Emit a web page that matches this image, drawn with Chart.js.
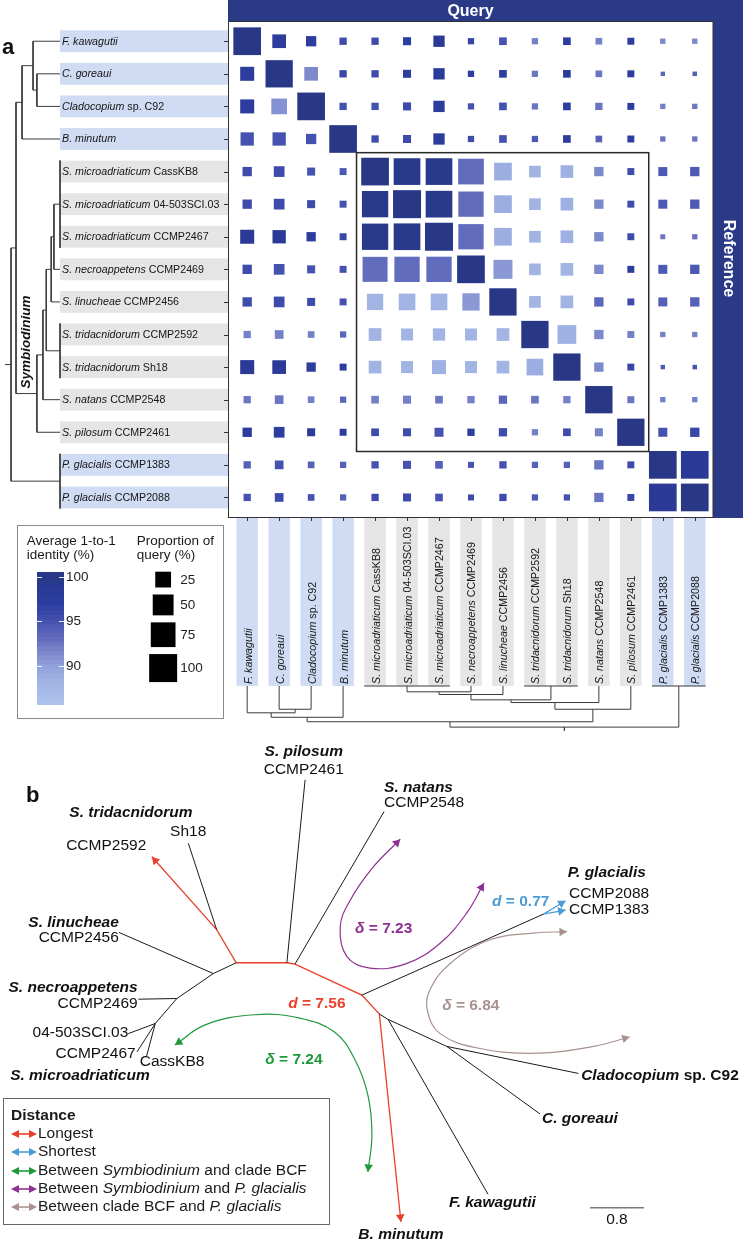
<!DOCTYPE html>
<html><head><meta charset="utf-8">
<script src="https://cdn.jsdelivr.net/npm/chart.js@4.4.1/dist/chart.umd.min.js"></script>
<style>
html,body{margin:0;padding:0;background:#fff;}
body{width:743px;height:1241px;position:relative;overflow:hidden;font-family:'Liberation Sans',Arial,Helvetica,sans-serif;color:#1a1a1a;}
canvas{position:absolute;}
.t{position:absolute;white-space:nowrap;}
#legB{position:absolute;left:3px;top:1098px;width:327px;height:127px;border:1px solid #666;box-sizing:border-box;font-size:15.5px;line-height:18.3px;padding:6.8px 0 0 7px;white-space:nowrap;}
#legB svg{vertical-align:-1px;margin-right:1px;}
</style></head><body>
<canvas id="cA" width="743" height="740" style="left:0;top:0"></canvas>
<div style="position:absolute;left:16.5px;top:525px;width:207px;height:193.5px;border:1px solid #8a8a8a;box-sizing:border-box"></div>
<div class="t" style="left:26.7px;top:533.5px;font-size:13.5px;line-height:14.5px">Average 1-to-1<br>identity (%)</div>
<div class="t" style="left:136.7px;top:533.5px;font-size:13.5px;line-height:14.5px">Proportion of<br>query (%)</div>
<canvas id="cCB" width="70" height="153" style="left:37px;top:562px"></canvas>
<canvas id="cSZ" width="62" height="150" style="left:149px;top:550px"></canvas>
<canvas id="cB" width="743" height="501" style="left:0;top:740px"></canvas>
<div id="legB"></div>
<script>
// ---------------- DATA ----------------
const speciesNames = ['F. kawagutii','C. goreaui','Cladocopium','B. minutum','S. microadriaticum','S. microadriaticum','S. microadriaticum','S. necroappetens','S. linucheae','S. tridacnidorum','S. tridacnidorum','S. natans','S. pilosum','P. glacialis','P. glacialis'];
const strainNames = ['','','sp. C92','','CassKB8','04-503SCI.03','CCMP2467','CCMP2469','CCMP2456','CCMP2592','Sh18','CCMP2548','CCMP2461','CCMP1383','CCMP2088'];
const axisTitles = {query:'Query', reference:'Reference', genus:'Symbiodinium'};

// proportion of query (%) : rows = reference genome, columns = query genome
const proportion = [
 [97.5,17.1,7.5,2.3,2.3,3.3,10,1.2,2.8,1.2,2.8,1.6,1.9,0.5,0.5],
 [18.2,94.3,17.1,2.3,2.3,3.3,10,1.2,2.8,1.2,2.8,1.6,1.9,0.1,0.15],
 [18.2,24.6,97.5,2.3,2.3,3.3,10,1.2,2.8,1.2,2.8,2.3,1.9,0.5,0.5],
 [15.8,15.8,7.5,97.5,2.3,3.3,10,1.2,2.8,1.2,2.8,1.6,1.9,0.5,0.5],
 [5.5,8.5,3.3,1.9,97.5,89.6,89.6,82.1,33.4,11,13.9,5.5,1.9,4.9,5.5],
 [5.5,8.5,3.3,1.9,86.6,100,89.6,79.1,33.4,11,13.9,5.5,1.9,4.9,5.5],
 [18.2,15.8,5.5,1.9,86.6,89.6,100,79.1,33.4,11,13.9,5.5,1.9,0.33,0.5],
 [5.5,8.5,3.3,1.9,76.9,79.1,79.1,97.5,39.8,11,13.9,5.5,1.9,4.9,5.5],
 [5.5,8.5,3.3,1.9,27.1,28.8,28.8,31.5,94.3,11,13.9,5.5,1.9,4.9,5.5],
 [2.3,4.4,1.6,1.2,13.9,11.9,12.7,11.9,13.9,94.3,38.3,5.5,1.9,0.5,0.5],
 [18.2,17.1,5.5,1.9,13.9,11.9,18.2,11.9,13.9,28.8,94.3,5.5,1.9,0.1,0.15],
 [2.3,4.4,1.6,1.2,2.8,3.3,2.8,2.3,3.7,2.8,2.3,94.3,1.9,0.5,0.5],
 [5.5,8.5,3.3,1.9,2.8,3.3,4.9,2.3,3.7,1.2,2.8,3.3,94.3,4.9,5.5],
 [2.3,4.4,1.6,1.2,2.3,3.3,2.8,1.0,2.3,1.2,1.2,5.5,1.9,97.5,97.5],
 [2.3,4.4,1.6,1.2,2.3,3.3,2.8,1.0,2.3,1.2,1.2,5.5,1.9,97.5,97.5]
];
// average 1-to-1 identity (%)
const identity = [
 [100,97.5,97.5,95.5,95.5,97,98.5,96,95,92,97.5,92,97.5,91.5,91.5],
 [97.5,100,91.5,96,95.5,97,98,97,97,92.5,98,92.5,98,93.5,94],
 [97.5,91,100,95,95,95.5,97.5,95,95,92.5,97.5,92.5,97.5,92,92.5],
 [95,95,95,100,95.5,95.5,97.5,95.5,95,94.5,97.5,94,97.5,92.5,92.5],
 [95.5,95.5,95,94.5,100,99.5,99.5,93,89,88,88.5,91.5,95.5,94.5,94.5],
 [95.5,95.5,95.5,95,99.5,100,99.5,93,89,88,88.5,91.5,95.5,94.5,94.5],
 [98.5,98.5,97.5,96,99.5,99.5,100,93,89,88,88.5,91.5,95.5,92.5,92.5],
 [95.5,95,95,95,93,93,93,100,90.5,88,88,91.5,97.5,94.5,94.5],
 [95.5,95.5,95.5,95,88,88,88,90.5,100,88,88,93.5,95.5,94,94],
 [92,92,92,93.5,88,88,88,88,88,100,88.5,91.5,92,92,92],
 [98.5,98.5,97.5,97.5,88,88,88.5,88,88,89,100,91.5,96,94.5,95],
 [92.5,92.5,92,93.5,92,92,92.5,92,93.5,92.5,92,100,92.5,92,92],
 [97.5,97.5,98,97.5,95.5,95.5,95,97.5,95.5,92,95.5,92,100,95,96],
 [94,95,94,94,95,95,94,95,95,94,94,92.5,95.5,100,98.5],
 [95,95.5,95,94,95.5,95.5,95,95.5,95.5,94.5,95,92.5,96,98.5,100]
];
const symbiodiniumBlock = [4, 12];

// dendrogram topology (leaf = genome index) and node heights
const treeTopology = ['root', [
  ['S', [
    ['BCF', [['F', [0, ['CC', [1, 2]]]], 3]],
    ['E', [['D', [['C', [['B', [['A', [['micro', [4, 5, 6]], 7]], 8]], ['T', [9, 10]]]], 11]], 12]]
  ]],
  ['Pg', [13, 14]]
]];
const rowTreeHeights = {micro:0, A:0.11, B:0.16, T:0, C:0.25, D:0.31, E:0.42, CC:0.42, F:0.49, BCF:0.69, S:0.80, Pg:0, root:0.89, stub:1.0};
const colTreeHeights = {micro:0, A:0.13, B:0.19, T:0, C:0.31, D:0.37, E:0.52, CC:0.52, F:0.60, BCF:0.70, S:0.80, Pg:0, root:0.92, stub:1.0};

// legend
const colorbarRange = [85.7, 100.55];
const colorbarTicks = [90, 95, 100];
const sizeLegendValues = [25, 50, 75, 100];

// panel b : unrooted tree (branch-length units)
const nodesB = {
  t2592:[2.25,1.73], sh18:[2.79,1.53], pil:[4.52,0.59], nat:[5.69,1.06], lin:[1.76,2.85], nec:[2.05,3.84],
  m0450:[1.90,4.35], m2467:[2.03,4.62], cass:[2.17,4.69], pg2088:[8.38,2.38], pg1383:[8.38,2.52],
  bmin:[5.94,7.14], fkaw:[7.23,6.73], cgor:[8.00,5.54], clad:[8.57,4.94],
  nTri:[3.21,2.81], n1:[3.50,3.30], n2:[4.25,3.30], n3:[4.37,3.32], n4:[5.36,3.78], n5:[5.62,4.06],
  n6:[5.75,4.14], n7:[6.62,4.54], nPg:[8.05,2.58], n8:[3.16,3.46], n9:[2.62,3.83], n10:[2.30,4.20]
};
const edgesB = [['nTri','sh18'],['n1','n8'],['n8','lin'],['n8','n9'],['n9','nec'],['n9','n10'],['n10','m0450'],['n10','m2467'],['n10','cass'],['n2','pil'],['n3','nat'],['n4','nPg'],['n5','n6'],['n6','fkaw'],['n6','n7'],['n7','cgor'],['n7','clad']];
const longestPath = ['t2592','nTri','n1','n2','n3','n4','n5','bmin'];
const shortestPath = ['pg2088','nPg','pg1383'];
const curveSymbPg = [[5.93,1.47],[5.53,1.88],[5.19,2.37],[5.04,2.77],[5.14,3.21],[5.48,3.38],[6.03,3.31],[6.52,3.01],[6.91,2.57],[7.17,2.12]];
const curveBcfPg = [[8.40,2.84],[7.90,2.86],[7.26,2.96],[6.67,3.31],[6.37,3.70],[6.33,4.00],[6.52,4.35],[7.11,4.57],[8.00,4.64],[8.79,4.54],[9.33,4.40]];
const curveSymbBcf = [[2.59,4.52],[3.04,4.22],[3.78,4.07],[4.44,4.12],[4.96,4.33],[5.26,4.74],[5.45,5.26],[5.51,5.85],[5.45,6.40]];
const distances = {longest:7.56, shortest:0.77, symbBcf:7.24, symbPg:7.23, bcfPg:6.84};
const scaleBarLength = 0.8;

// ---------------- STYLE / LAYOUT ----------------
const FF = "'Liberation Sans', Arial, Helvetica, sans-serif";
const NAVY = '#2b3a87';
const LIGHTBLUE = '#d0dcf3';
const GRAY = '#e5e5e5';
const IDENTITY_STOPS = [86,88,89,90,91,92,93,94,95.5,97,98.5,100];
const IDENTITY_RGB = [[172,194,236],[161,180,228],[155,173,225],[144,160,218],[132,145,210],[116,128,199],[97,108,189],[85,97,183],[62,75,171],[45,62,160],[42,58,150],[40,56,134]];
const C_RED = '#e8402a', C_BLUE = '#4b9cd6', C_GREEN = '#1f9a3a', C_PURPLE = '#8e2f91', C_BROWN = '#a8928d';
const HALF = 0.335, BRACKET = 0.34;
const PXU = 67.5; // px per tree unit in panel b

Chart.defaults.font.family = FF;
Chart.defaults.color = '#222';
Chart.defaults.animation = false;
Chart.defaults.events = [];
Chart.defaults.layout.autoPadding = false;
Chart.defaults.plugins.legend.display = false;
Chart.defaults.plugins.tooltip.enabled = false;

function rgb(c){ return 'rgb(' + c.map(v => Math.round(v)).join(',') + ')'; }
function identityColor(v){
  const S = IDENTITY_STOPS, C = IDENTITY_RGB;
  if (v <= S[0]) return rgb(C[0]);
  for (let k = 1; k < S.length; k++) if (v <= S[k]) { const t = (v - S[k-1]) / (S[k] - S[k-1]); return rgb(C[k-1].map((c,i) => c + (C[k][i] - c) * t)); }
  return rgb(C[C.length-1]);
}
function sideFor(p){ return 3.6 + 2.44 * Math.sqrt(Math.max(p, 0)); }
const isSymb = i => speciesNames[i].startsWith('S.');

function drawParts(ctx, parts, x, y, align, fonts){
  let w = 0;
  parts.forEach(p => { ctx.font = fonts[p[1]]; w += ctx.measureText(p[0]).width; });
  let cx = align === 'left' ? x : align === 'right' ? x - w : x - w / 2;
  ctx.textAlign = 'left';
  parts.forEach(p => { ctx.font = fonts[p[1]]; ctx.fillText(p[0], cx, y); cx += ctx.measureText(p[0]).width; });
}
function labelParts(i){
  const parts = [[speciesNames[i], 'i']];
  if (strainNames[i]) parts.push([' ' + strainNames[i], 'n']);
  return parts;
}

// tree segments: returns list of [[pos,h],[pos,h]]
function buildTree(H){
  const segs = [], pos = {};
  function walk(node){
    if (typeof node === 'number') return {p: node, h: 0};
    const [name, kids] = node;
    const ch = kids.map(walk);
    const h = H[name];
    const lo = Math.min(...ch.map(c => c.p)), hi = Math.max(...ch.map(c => c.p));
    const p = (lo + hi) / 2;
    if (h === 0) segs.push([[lo - BRACKET, h], [hi + BRACKET, h]]);
    else {
      segs.push([[lo, h], [hi, h]]);
      ch.forEach(c => { if (c.h !== h) segs.push([[c.p, h], [c.p, c.h]]); });
    }
    pos[name] = p;
    return {p, h};
  }
  const r = walk(treeTopology);
  segs.push([[r.p, r.h], [r.p, H.stub]]);
  return {segs, pos};
}
function segsToData(segs, map){
  const out = [];
  segs.forEach(s => { out.push(map(s[0]), map(s[1]), {x: null, y: null}); });
  return out;
}

// ---------------- PANEL A ----------------
const rowTree = buildTree(rowTreeHeights);
const colTree = buildTree(colTreeHeights);
const matrixPoints = [];
identity.forEach((row, i) => row.forEach((v, j) => matrixPoints.push({x: j, y: i, p: proportion[i][j], id: v})));

const A_LEFT = 228, A_RIGHT = 713, A_TOP = 22, A_BOTTOM = 517;
const ROW_LEAF_PX = 60, ROW_TREE_PX = 55;     // row tree: px = 60 - 55*h
const COL_LEAF_PX = 686, COL_TREE_PX = 44.7;  // col tree: px = 686 + 44.7*h
const W = A_RIGHT - A_LEFT, Hh = A_BOTTOM - A_TOP;
const txMin = -(A_RIGHT - ROW_LEAF_PX) / ROW_TREE_PX, txMax = txMin + W / ROW_TREE_PX;
const tyMin = -(COL_LEAF_PX - A_TOP) / COL_TREE_PX, tyMax = tyMin + Hh / COL_TREE_PX;

const fontsA = {i: 'italic 10.7px ' + FF, n: '10.7px ' + FF};

const panelAPlugin = {
  id: 'panelA',
  beforeDatasetsDraw(chart){
    const {ctx, chartArea: ca} = chart;
    const x = chart.scales.x, y = chart.scales.y, tx = chart.scales.tx, ty = chart.scales.ty;
    ctx.save();
    // navy bands
    ctx.fillStyle = NAVY;
    ctx.fillRect(ca.left, 0, chart.width - ca.left, ca.top);
    ctx.fillRect(ca.right, 0, chart.width - ca.right, ca.bottom + 1);
    ctx.fillStyle = '#fff'; ctx.font = 'bold 16px ' + FF; ctx.textAlign = 'center'; ctx.textBaseline = 'middle';
    ctx.fillText(axisTitles.query, (ca.left + ca.right) / 2, ca.top / 2 + 0.5);
    ctx.save(); ctx.translate((ca.right + chart.width) / 2, ca.bottom / 2); ctx.rotate(Math.PI / 2);
    ctx.fillText(axisTitles.reference, 0, 0); ctx.restore();
    // label boxes
    const leafX = tx.getPixelForValue(0), leafY = ty.getPixelForValue(0);
    speciesNames.forEach((sp, i) => {
      ctx.fillStyle = isSymb(i) ? GRAY : LIGHTBLUE;
      const y0 = y.getPixelForValue(i - HALF), y1 = y.getPixelForValue(i + HALF);
      ctx.fillRect(leafX, y0, ca.left - leafX, y1 - y0);
      const x0 = x.getPixelForValue(i - HALF), x1 = x.getPixelForValue(i + HALF);
      ctx.fillRect(x0, ca.bottom + 1, x1 - x0, leafY - ca.bottom - 1);
    });
    // plot area
    ctx.fillStyle = '#fff'; ctx.fillRect(ca.left, ca.top, ca.right - ca.left, ca.bottom - ca.top);
    ctx.strokeStyle = '#333'; ctx.lineWidth = 1;
    ctx.strokeRect(ca.left + 0.5, ca.top - 0.5, ca.right - ca.left - 0.5, ca.bottom - ca.top + 1);
    // ticks
    ctx.beginPath();
    speciesNames.forEach((sp, i) => {
      const yp = Math.round(y.getPixelForValue(i)) + 0.5;
      ctx.moveTo(ca.left - 4, yp); ctx.lineTo(ca.left, yp);
      const xp = Math.round(x.getPixelForValue(i)) + 0.5;
      ctx.moveTo(xp, ca.bottom); ctx.lineTo(xp, ca.bottom + 4);
    });
    ctx.stroke();
    // labels
    ctx.fillStyle = '#151515'; ctx.textBaseline = 'middle';
    speciesNames.forEach((sp, i) => {
      drawParts(ctx, labelParts(i), leafX + 2, y.getPixelForValue(i) + 0.5, 'left', fontsA);
      ctx.save(); ctx.translate(x.getPixelForValue(i) + 1.5, leafY - 2); ctx.rotate(-Math.PI / 2);
      drawParts(ctx, labelParts(i), 0, 0, 'left', fontsA); ctx.restore();
    });
    // genus label in row tree
    ctx.save();
    ctx.translate(tx.getPixelForValue((rowTreeHeights.S + rowTreeHeights.E) / 2), y.getPixelForValue(rowTree.pos.E) - 5);
    ctx.rotate(-Math.PI / 2); ctx.font = 'italic bold 13.5px ' + FF; ctx.textAlign = 'left'; ctx.fillStyle = '#111';
    ctx.fillText(axisTitles.genus, 0, 0); ctx.restore();
    // panel letter
    ctx.fillStyle = '#111'; ctx.font = 'bold 22px ' + FF; ctx.textAlign = 'left';
    ctx.fillText('a', 2, 48);
    ctx.restore();
  },
  afterDatasetsDraw(chart){
    const {ctx} = chart; const x = chart.scales.x, y = chart.scales.y;
    const a = symbiodiniumBlock[0] - 0.58, b = symbiodiniumBlock[1] + 0.56;
    ctx.save(); ctx.strokeStyle = '#2a2a2a'; ctx.lineWidth = 1.5;
    const x0 = x.getPixelForValue(a), x1 = x.getPixelForValue(b), y0 = y.getPixelForValue(a), y1 = y.getPixelForValue(b + 0.03);
    ctx.strokeRect(x0, y0, x1 - x0, y1 - y0);
    ctx.restore();
  }
};

new Chart(document.getElementById('cA'), {
  type: 'scatter',
  data: { datasets: [
    { data: matrixPoints, pointStyle: 'rect', borderWidth: 0, pointBorderWidth: 0,
      pointRadius: c => c.raw ? sideFor(c.raw.p) / Math.SQRT2 : 0,
      pointBackgroundColor: c => c.raw ? identityColor(c.raw.id) : '#000', clip: false },
    { data: segsToData(rowTree.segs, s => ({x: s[1], y: s[0]})), xAxisID: 'tx', yAxisID: 'y', showLine: true,
      pointRadius: 0, borderColor: '#3a3a3a', borderWidth: 1, spanGaps: false, clip: false },
    { data: segsToData(colTree.segs, s => ({x: s[0], y: s[1]})), xAxisID: 'x', yAxisID: 'ty', showLine: true,
      pointRadius: 0, borderColor: '#3a3a3a', borderWidth: 1, spanGaps: false, clip: false }
  ]},
  options: {
    responsive: false, devicePixelRatio: 1,
    layout: { padding: { left: A_LEFT, top: A_TOP, right: 743 - A_RIGHT, bottom: 740 - A_BOTTOM } },
    scales: {
      x: { type: 'linear', min: -0.6, max: 14.57, display: false },
      y: { type: 'linear', min: -0.59, max: 14.6, reverse: true, display: false },
      tx: { type: 'linear', axis: 'x', position: 'bottom', min: txMin, max: txMax, reverse: true, display: false },
      ty: { type: 'linear', axis: 'y', position: 'left', min: tyMin, max: tyMax, reverse: true, display: false }
    }
  },
  plugins: [panelAPlugin]
});

// colour bar legend  (chart area 27 px wide, axis 26 px, right padding 17)
const bands = [];
for (let lo = colorbarRange[0]; lo < colorbarRange[1] - 1e-6; lo += 0.5) {
  const hi = Math.min(lo + 0.5, colorbarRange[1]);
  bands.push({lo, hi});
}
new Chart(document.getElementById('cCB'), {
  type: 'bar',
  data: { labels: ['identity'], datasets: bands.map(b => ({
    data: [[b.lo, b.hi + 0.02]], backgroundColor: identityColor((b.lo + b.hi) / 2), borderWidth: 0,
    grouped: false, barPercentage: 1, categoryPercentage: 1 })) },
  options: {
    responsive: false, devicePixelRatio: 1,
    layout: { padding: { top: 9.7, bottom: 9.7, left: 0, right: 17 } },
    scales: {
      x: { display: false },
      y: { position: 'right', min: colorbarRange[0], max: colorbarRange[1],
        afterBuildTicks: s => { s.ticks = colorbarTicks.map(v => ({value: v})); },
        afterFit: s => { s.width = 26; },
        grid: { color: 'rgba(255,255,255,0.9)', lineWidth: 1, drawTicks: false, z: 1 },
        border: { display: false, dash: [5, 17] },
        ticks: { padding: 2, font: { size: 13.5 }, color: '#222' } }
    }
  }
});

// size legend: chart area = page x 149..177.3, y 560..690 (values in page px)
const sizeLegendY = [];
{ let top = 571.7; sizeLegendValues.forEach(v => { const s = sideFor(v); sizeLegendY.push(top + s / 2); top += s + 7; }); }
const sizeLabelPlugin = {
  id: 'sizeLabels',
  afterDatasetsDraw(chart){
    const {ctx, chartArea: ca} = chart; const y = chart.scales.y;
    ctx.save(); ctx.fillStyle = '#222'; ctx.font = '13.5px ' + FF; ctx.textAlign = 'left'; ctx.textBaseline = 'middle';
    sizeLegendValues.forEach((v, k) => ctx.fillText(String(v), ca.right + 3, y.getPixelForValue(sizeLegendY[k]) + 0.5));
    ctx.restore();
  }
};
new Chart(document.getElementById('cSZ'), {
  type: 'scatter',
  data: { datasets: [{ data: sizeLegendValues.map((v, k) => ({x: 0.5, y: sizeLegendY[k], p: v})),
    pointStyle: 'rect', pointBackgroundColor: '#000', pointBorderWidth: 0,
    pointRadius: c => c.raw ? sideFor(c.raw.p) / Math.SQRT2 : 0, clip: false }] },
  options: {
    responsive: false, devicePixelRatio: 1,
    layout: { autoPadding: false, padding: { top: 10, bottom: 10, left: 0, right: 62 - 28.3 } },
    scales: {
      x: { type: 'linear', min: 0, max: 1, display: false },
      y: { type: 'linear', min: 560, max: 690, reverse: true, display: false }
    }
  },
  plugins: [sizeLabelPlugin]
});

// ---------------- PANEL B ----------------
const fontsB = {bi: 'italic bold 15.5px ' + FF, b: 'bold 15.5px ' + FF, n: '15.5px ' + FF};
const labelsB = [
 {parts:[['S. pilosum','bi']], at:[4.50,0.18], align:'center'},
 {parts:[['CCMP2461','n']], at:[4.50,0.44], align:'center'},
 {parts:[['S. natans','bi']], at:[5.69,0.71], align:'left'},
 {parts:[['CCMP2548','n']], at:[5.69,0.93], align:'left'},
 {parts:[['S. tridacnidorum','bi']], at:[1.94,1.08], align:'center'},
 {parts:[['Sh18','n']], at:[2.52,1.36], align:'left'},
 {parts:[['CCMP2592','n']], at:[0.98,1.56], align:'left'},
 {parts:[['S. linucheae','bi']], at:[1.76,2.70], align:'right'},
 {parts:[['CCMP2456','n']], at:[1.76,2.93], align:'right'},
 {parts:[['S. necroappetens','bi']], at:[2.04,3.67], align:'right'},
 {parts:[['CCMP2469','n']], at:[2.04,3.91], align:'right'},
 {parts:[['04-503SCI.03','n']], at:[1.90,4.34], align:'right'},
 {parts:[['CCMP2467','n']], at:[2.01,4.65], align:'right'},
 {parts:[['CassKB8','n']], at:[2.07,4.76], align:'left'},
 {parts:[['S. microadriaticum','bi']], at:[0.15,4.98], align:'left'},
 {parts:[['P. glacialis','bi']], at:[8.41,1.96], align:'left'},
 {parts:[['CCMP2088','n']], at:[8.43,2.27], align:'left'},
 {parts:[['CCMP1383','n']], at:[8.43,2.52], align:'left'},
 {parts:[['Cladocopium','bi'],[' sp. C92','b']], at:[8.61,4.98], align:'left'},
 {parts:[['C. goreaui','bi']], at:[8.03,5.61], align:'left'},
 {parts:[['F. kawagutii','bi']], at:[6.65,6.86], align:'left'},
 {parts:[['B. minutum','bi']], at:[5.94,7.33], align:'center'}
];
const distLabels = [
 {sym:'δ', v:distances.symbPg, at:[5.26,2.79], color:C_PURPLE},
 {sym:'d', v:distances.shortest, at:[7.29,2.40], color:C_BLUE},
 {sym:'d', v:distances.longest, at:[4.27,3.90], color:C_RED},
 {sym:'δ', v:distances.symbBcf, at:[3.93,4.73], color:C_GREEN},
 {sym:'δ', v:distances.bcfPg, at:[6.55,3.94], color:C_BROWN}
];
const scaleBarAt = [8.74, 6.93];

const P = k => ({x: nodesB[k][0], y: nodesB[k][1]});
const blackEdges = [];
edgesB.forEach(e => { blackEdges.push(P(e[0]), P(e[1]), {x: null, y: null}); });
const ARROW_R = 5;
function arrowAt(tip, from, color){
  const dx = tip[0] - from[0], dy = tip[1] - from[1], L = Math.hypot(dx, dy);
  const ux = dx / L, uy = dy / L, r = ARROW_R / PXU;
  return {x: tip[0] - ux * r, y: tip[1] - uy * r, rot: Math.atan2(ux, -uy) * 180 / Math.PI, c: color};
}
const N = k => nodesB[k];
const arrows = [
  arrowAt(N(longestPath[0]), N(longestPath[1]), C_RED),
  arrowAt(N(longestPath[longestPath.length-1]), N(longestPath[longestPath.length-2]), C_RED),
  arrowAt(N('pg2088'), N('nPg'), C_BLUE),
  arrowAt(N('pg1383'), N('nPg'), C_BLUE)
];
[[curveSymbPg, C_PURPLE], [curveBcfPg, C_BROWN], [curveSymbBcf, C_GREEN]].forEach(([c, col]) => {
  arrows.push(arrowAt(c[0], c[1], col));
  arrows.push(arrowAt(c[c.length-1], c[c.length-2], col));
});
const curveDs = (pts, col) => ({ data: pts.map(p => ({x: p[0], y: p[1]})), showLine: true, tension: 0.4,
  pointRadius: 0, borderColor: col, borderWidth: 1.2, clip: false });

const panelBPlugin = {
  id: 'panelB',
  afterDatasetsDraw(chart){
    const {ctx} = chart; const x = chart.scales.x, y = chart.scales.y;
    ctx.save(); ctx.textBaseline = 'middle'; ctx.fillStyle = '#111';
    labelsB.forEach(l => drawParts(ctx, l.parts, x.getPixelForValue(l.at[0]), y.getPixelForValue(l.at[1]), l.align, fontsB));
    distLabels.forEach(l => {
      ctx.fillStyle = l.color;
      drawParts(ctx, [[l.sym, 'bi'], [' = ' + l.v.toFixed(2), 'b']], x.getPixelForValue(l.at[0]), y.getPixelForValue(l.at[1]), 'left', fontsB);
    });
    ctx.fillStyle = '#111';
    drawParts(ctx, [[String(scaleBarLength), 'n']], x.getPixelForValue(scaleBarAt[0] + scaleBarLength / 2), y.getPixelForValue(scaleBarAt[1] + 0.17), 'center', fontsB);
    ctx.font = 'bold 22px ' + FF; ctx.textAlign = 'left';
    ctx.fillText('b', 26, 56);
    ctx.restore();
  }
};

new Chart(document.getElementById('cB'), {
  type: 'scatter',
  data: { datasets: [
    { data: blackEdges, showLine: true, pointRadius: 0, borderColor: '#1a1a1a', borderWidth: 1, spanGaps: false, clip: false },
    { data: longestPath.map(P), showLine: true, pointRadius: 0, borderColor: C_RED, borderWidth: 1.3, clip: false },
    { data: shortestPath.map(P), showLine: true, pointRadius: 0, borderColor: C_BLUE, borderWidth: 1.2, clip: false },
    curveDs(curveSymbPg, C_PURPLE), curveDs(curveBcfPg, C_BROWN), curveDs(curveSymbBcf, C_GREEN),
    { data: [{x: scaleBarAt[0], y: scaleBarAt[1]}, {x: scaleBarAt[0] + scaleBarLength, y: scaleBarAt[1]}], showLine: true,
      pointRadius: 0, borderColor: '#7a7a7a', borderWidth: 1.6, clip: false },
    { data: arrows, pointStyle: 'triangle', pointRadius: ARROW_R, pointBorderWidth: 0,
      pointRotation: c => c.raw ? c.raw.rot : 0, pointBackgroundColor: c => c.raw ? c.raw.c : '#000', clip: false }
  ]},
  options: {
    responsive: false, devicePixelRatio: 1, layout: { autoPadding: false, padding: 0 },
    scales: {
      x: { type: 'linear', min: 0, max: 743 / PXU, display: false },
      y: { type: 'linear', min: 0, max: 501 / PXU, reverse: true, display: false }
    }
  },
  plugins: [panelBPlugin]
});

// legend for panel b
function arrowSvg(c){
  return '<svg width="26" height="10" viewBox="0 0 26 10"><line x1="5" y1="5" x2="21" y2="5" stroke="' + c + '" stroke-width="1.6"/>' +
    '<polygon points="0,5 8,1 8,9" fill="' + c + '"/><polygon points="26,5 18,1 18,9" fill="' + c + '"/></svg>';
}
const legendBItems = [
  [C_RED, 'Longest'], [C_BLUE, 'Shortest'],
  [C_GREEN, 'Between <i>Symbiodinium</i> and clade BCF'],
  [C_PURPLE, 'Between <i>Symbiodinium</i> and <i>P. glacialis</i>'],
  [C_BROWN, 'Between clade BCF and <i>P. glacialis</i>']
];
document.getElementById('legB').innerHTML = '<div><b>Distance</b></div>' +
  legendBItems.map(it => '<div>' + arrowSvg(it[0]) + it[1] + '</div>').join('');
</script>
</body></html>
